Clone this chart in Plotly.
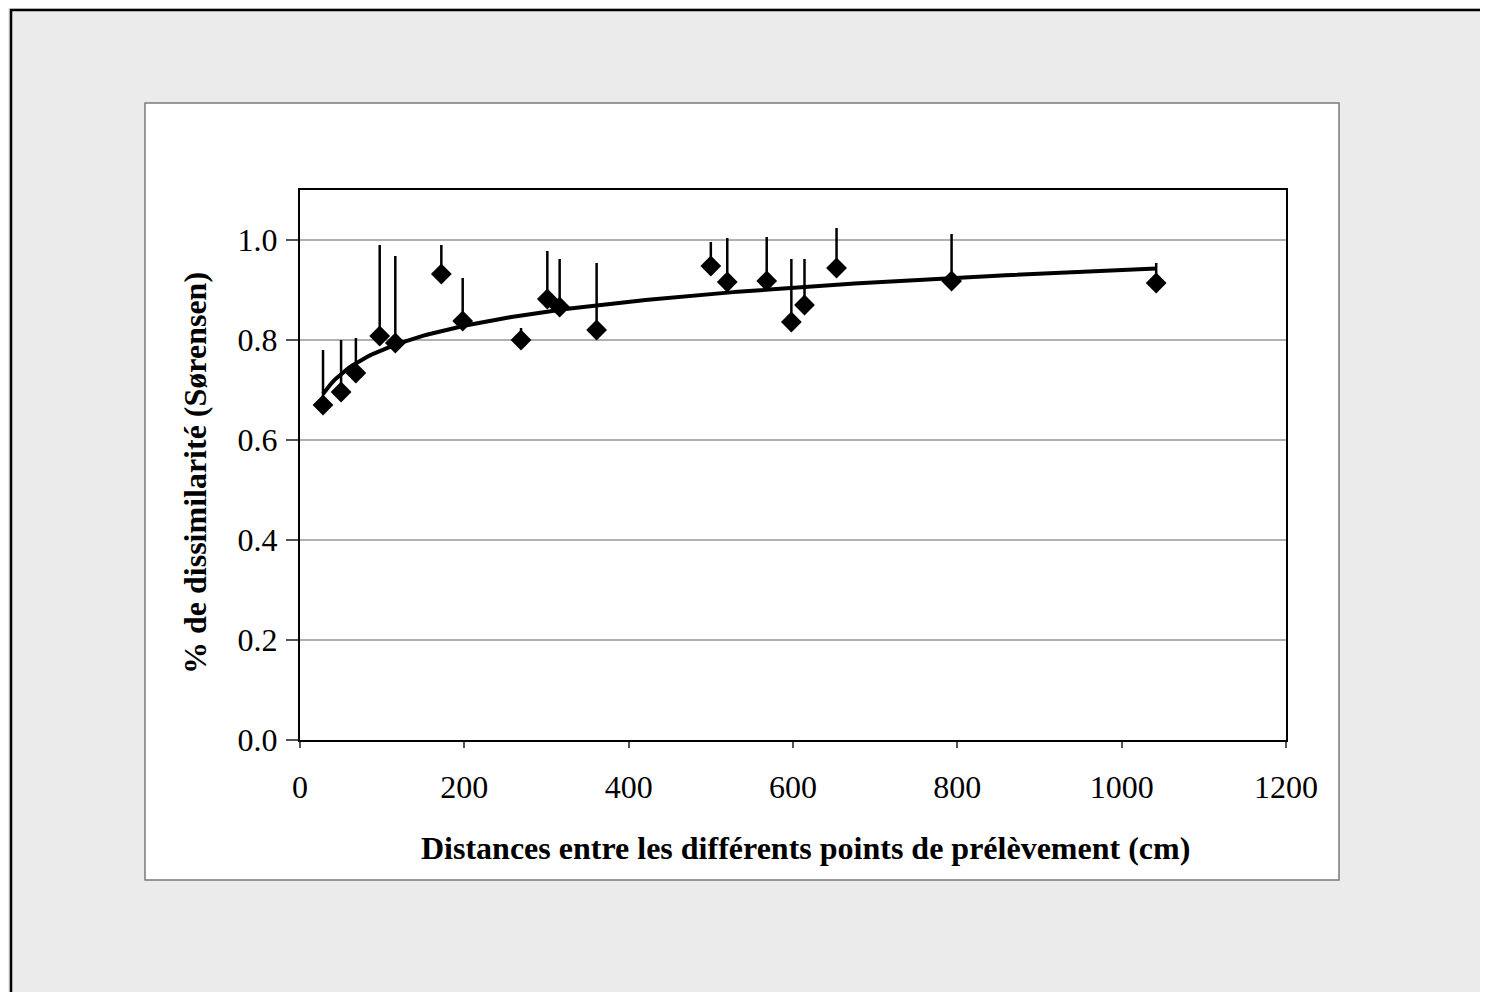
import numpy as np
import plotly.graph_objects as go

# Data
distance_cm = [28, 50, 68, 97, 116, 172, 198, 269, 301, 316, 361,
               500, 520, 568, 598, 614, 653, 793, 1042]
dissimilarity = [0.670, 0.696, 0.734, 0.808, 0.794, 0.932, 0.838, 0.800, 0.882, 0.866, 0.820,
                 0.948, 0.916, 0.918, 0.836, 0.870, 0.944, 0.918, 0.914]
error_top = [0.780, 0.800, 0.804, 0.990, 0.968, 0.990, 0.924, 0.824, 0.978, 0.962, 0.954,
             0.996, 1.004, 1.006, 0.962, 0.962, 1.024, 1.012, 0.954]

x_ticks = [0, 200, 400, 600, 800, 1000, 1200]
y_ticks = [0.0, 0.2, 0.4, 0.6, 0.8, 1.0]

x_title = "Distances entre les différents points de prélèvement (cm)"
y_title = "% de dissimilarité (Sørensen)"

# Logarithmic trendline fitted to the data (as Excel does)
xd = np.array(distance_cm, dtype=float)
yd = np.array(dissimilarity, dtype=float)
b, a = np.polyfit(np.log(xd), yd, 1)
x_fit = np.linspace(xd.min(), xd.max(), 200)
y_fit = a + b * np.log(x_fit)

err_plus = [t - v for t, v in zip(error_top, dissimilarity)]
err_minus = [0] * len(dissimilarity)

FONT = "Liberation Serif"

fig = go.Figure()
fig.add_trace(go.Scatter(
    x=x_fit, y=y_fit, mode="lines",
    line=dict(color="black", width=4),
    hoverinfo="skip", showlegend=False,
))
fig.add_trace(go.Scatter(
    x=distance_cm, y=dissimilarity, mode="markers",
    marker=dict(symbol="diamond", size=16, color="black"),
    error_y=dict(type="data", symmetric=False, array=err_plus, arrayminus=err_minus,
                 color="black", thickness=2.5, width=0),
    showlegend=False,
))

# page body has an 8px margin, so the figure is drawn 8px smaller and offset
OFF = 8
W, H = 1488 - OFF, 992 - OFF
L, R, T, B = 300 - OFF, 1286 - OFF, 190 - OFF, 740 - OFF

def px(xp):
    return (xp - OFF - L) / (R - L)

def py(yp):
    return (B - (yp - OFF)) / (B - T)

shapes = [
    # outer frame
    dict(type="rect", xref="paper", yref="paper",
         x0=px(11), x1=px(1510), y0=py(1010), y1=py(10),
         line=dict(color="black", width=2.5), fillcolor="rgba(0,0,0,0)", layer="below"),
    # white inner box
    dict(type="rect", xref="paper", yref="paper",
         x0=px(145), x1=px(1339), y0=py(880), y1=py(103),
         line=dict(color="#7a7a7a", width=1.5), fillcolor="white", layer="below"),
]

annotations = [
    dict(text="<b>" + x_title + "</b>", xref="paper", yref="paper",
         x=px(805), y=py(848), xanchor="center", yanchor="middle", showarrow=False,
         font=dict(family=FONT, size=32, color="black")),
    dict(text="<b>" + y_title + "</b>", xref="paper", yref="paper", textangle=-90,
         x=px(195), y=py(473), xanchor="center", yanchor="middle", showarrow=False,
         font=dict(family=FONT, size=32, color="black")),
]

fig.update_layout(
    width=W, height=H,
    margin=dict(l=L, r=W - R, t=T, b=H - B, pad=0),
    paper_bgcolor="#ebebeb",
    plot_bgcolor="white",
    font=dict(family=FONT, color="black", size=32),
    shapes=shapes,
    annotations=annotations,
    xaxis=dict(
        range=[0, 1200], tickvals=x_ticks, ticktext=[str(v) for v in x_ticks],
        showgrid=False, zeroline=False,
        showline=True, linecolor="black", linewidth=2, mirror=True,
        ticks="outside", ticklen=6, tickcolor="#555", tickwidth=1.5,
        tickfont=dict(family=FONT, size=32),
        ticklabelstandoff=12,
    ),
    yaxis=dict(
        range=[0, 1.1], tickvals=y_ticks, ticktext=[f"{v:.1f}" for v in y_ticks],
        showgrid=True, gridcolor="#b0b0b0", gridwidth=1.5,
        zeroline=False,
        showline=True, linecolor="black", linewidth=2, mirror=True,
        ticks="outside", ticklen=12, tickcolor="#555", tickwidth=1.5,
        tickfont=dict(family=FONT, size=32),
        ticklabelstandoff=2,
    ),
)

fig.write_html("out.html")
